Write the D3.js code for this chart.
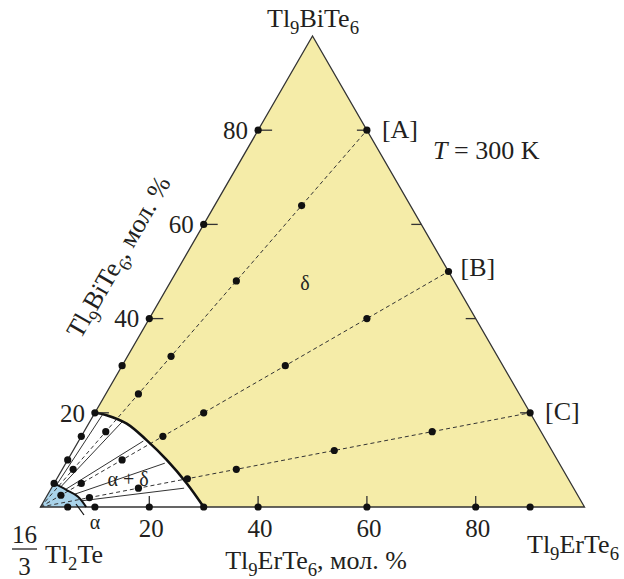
<!DOCTYPE html>
<html>
<head>
<meta charset="utf-8">
<script src="https://cdn.jsdelivr.net/npm/d3@7"></script>
<style>
body { margin: 0; background: #fff; }
svg { display: block; }
text { font-family: "Liberation Serif", "Times New Roman", serif; fill: #231f20; }
</style>
</head>
<body>
<div id="chart"></div>
<script>
// axis ticks, mol. %
var ticks = [20, 40, 60, 80];

// samples on the binary edges, mol. %
var edgeBi = [5, 10, 15, 20, 30, 40, 60, 80];   // Tl2Te - Tl9BiTe6
var edgeEr = [5, 10, 20, 30, 40, 60, 80, 90];   // Tl2Te - Tl9ErTe6

// sections Tl2Te - [A], [B], [C]
var sectionNames = ["[A]", "[B]", "[C]"];
var sectionEr = [20, 50, 80];
var sectionBi = [80, 50, 20];
// share of the end alloy along each section, %
var sectionA = [10, 20, 30, 40, 60, 80, 100];
var sectionB = [5, 10, 20, 30, 40, 60, 80, 100];
var sectionC = [10, 20, 30, 40, 60, 80, 100];

// phase boundaries, [Er %, Bi %]
var deltaBoundary = [[0, 20], [2.4, 19.5], [7, 17.7], [12.4, 14.2], [18.2, 10], [24.4, 5], [30, 0]];
var alphaBoundary = [[0, 5], [3, 3.6], [5.8, 2.2], [8.4, 0]];

// tie lines alpha -> delta
var tieFrom = [[0.6, 4.7], [1.6, 4.3], [2.8, 3.8], [4.9, 2.7], [6.8, 1.3]];
var tieTo   = [[1.6, 19.7], [6, 18.2], [11.9, 14], [18.2, 9.3], [24.4, 4]];

var width = 624, height = 579;

var svg = d3.select("#chart").append("svg")
	.attr("width", width)
	.attr("height", height);

// ternary: x from Er + Bi/2, y from Bi
var sx = d3.scaleLinear().domain([0, 100]).range([40.5, 584.5]);
var sy = d3.scaleLinear().domain([0, 100]).range([507, 36]);

function P(er, bi) { return [sx(er + bi / 2), sy(bi)]; }
function Pc(c) { return P(c[0], c[1]); }

var curve = d3.line().curve(d3.curveCatmullRom.alpha(0.5));

// delta field (yellow)
var dRev = deltaBoundary.slice().reverse().map(Pc);
svg.append("path")
	.attr("d", curve(dRev) + "L" + P(0, 100) + "L" + P(100, 0) + "Z")
	.attr("fill", "#f5eca8");

// alpha field (blue)
svg.append("path")
	.attr("d", curve(alphaBoundary.map(Pc)) + "L" + P(0, 0) + "Z")
	.attr("fill", "#a9d3ea");

// tie lines
for (var i = 0; i < tieFrom.length; i++) {
	var a = Pc(tieFrom[i]), b = Pc(tieTo[i]);
	svg.append("line")
		.attr("x1", a[0]).attr("y1", a[1])
		.attr("x2", b[0]).attr("y2", b[1])
		.attr("stroke", "#333").attr("stroke-width", 1);
}

// dashed sections
var sectionPts = [sectionA, sectionB, sectionC];
for (var s = 0; s < 3; s++) {
	var e = P(sectionEr[s], sectionBi[s]);
	svg.append("line")
		.attr("x1", sx(0)).attr("y1", sy(0))
		.attr("x2", e[0]).attr("y2", e[1])
		.attr("stroke", "#333").attr("stroke-width", 1)
		.attr("stroke-dasharray", "4,3");
}

// triangle
svg.append("path")
	.attr("d", "M" + P(0, 0) + "L" + P(0, 100) + "L" + P(100, 0) + "Z")
	.attr("fill", "none").attr("stroke", "#333").attr("stroke-width", 1.3);

// boundaries
svg.append("path")
	.attr("d", curve(deltaBoundary.map(Pc)))
	.attr("fill", "none").attr("stroke", "#111").attr("stroke-width", 2.6);
svg.append("path")
	.attr("d", curve(alphaBoundary.map(Pc)))
	.attr("fill", "none").attr("stroke", "#111").attr("stroke-width", 2);

// ticks
ticks.forEach(function (t) {
	var l = P(0, t), r = P(100 - t, t), b = P(t, 0);
	svg.append("line").attr("x1", l[0]).attr("y1", l[1]).attr("x2", l[0] + 14).attr("y2", l[1])
		.attr("stroke", "#333").attr("stroke-width", 1.3);
	svg.append("line").attr("x1", r[0]).attr("y1", r[1]).attr("x2", r[0] - 10).attr("y2", r[1])
		.attr("stroke", "#333").attr("stroke-width", 1.3);
	svg.append("line").attr("x1", b[0]).attr("y1", b[1]).attr("x2", b[0]).attr("y2", b[1] - 11)
		.attr("stroke", "#333").attr("stroke-width", 1.3);
	svg.append("text").attr("x", l[0] - 10).attr("y", l[1]).attr("dy", "0.35em")
		.attr("text-anchor", "end").attr("font-size", 25).text(t);
	svg.append("text").attr("x", b[0] + 2).attr("y", 537)
		.attr("text-anchor", "middle").attr("font-size", 25).text(t);
});

// points
var dots = [];
edgeBi.forEach(function (v) { dots.push(P(0, v)); });
edgeEr.forEach(function (v) { dots.push(P(v, 0)); });
for (var s = 0; s < 3; s++) {
	sectionPts[s].forEach(function (t) {
		dots.push(P(sectionEr[s] * t / 100, sectionBi[s] * t / 100));
	});
}
svg.selectAll("circle.pt").data(dots).enter().append("circle")
	.attr("class", "pt")
	.attr("cx", function (d) { return d[0]; })
	.attr("cy", function (d) { return d[1]; })
	.attr("r", 3.6)
	.attr("fill", "#111");

// formula text with subscripts: "Tl_9BiTe_6"
function formula(sel, str, size) {
	var parts = str.split(/_(\d)/);
	var shift = size * 0.28;
	for (var k = 0; k < parts.length; k++) {
		if (parts[k] === "") continue;
		if (k % 2 === 1) {
			sel.append("tspan").attr("font-size", size * 0.72).attr("dy", shift).text(parts[k]);
		} else {
			var ts = sel.append("tspan").text(parts[k]);
			if (k > 0) ts.attr("dy", -shift);
		}
	}
	return sel;
}

// vertex labels
formula(svg.append("text").attr("x", 313).attr("y", 27).attr("text-anchor", "middle").attr("font-size", 26), "Tl_9BiTe_6", 26);
formula(svg.append("text").attr("x", 527).attr("y", 553).attr("font-size", 26), "Tl_9ErTe_6", 26);
formula(svg.append("text").attr("x", 45).attr("y", 563).attr("font-size", 26), "Tl_2Te", 26);
svg.append("text").attr("x", 24.5).attr("y", 543).attr("text-anchor", "middle").attr("font-size", 25).text("16");
svg.append("text").attr("x", 24.5).attr("y", 575).attr("text-anchor", "middle").attr("font-size", 25).text("3");
svg.append("line").attr("x1", 12).attr("x2", 37).attr("y1", 549).attr("y2", 549)
	.attr("stroke", "#231f20").attr("stroke-width", 1.3);

// axis titles
formula(svg.append("text").attr("x", 316).attr("y", 569).attr("text-anchor", "middle").attr("font-size", 26), "Tl_9ErTe_6, мол. %", 26);
var lc = P(0, 47);
var ang = -60, off = 58;
var cx = lc[0] - off * Math.cos(Math.PI / 6), cy = lc[1] - off * Math.sin(Math.PI / 6);
formula(svg.append("text")
	.attr("transform", "translate(" + cx + "," + cy + ") rotate(" + ang + ")")
	.attr("text-anchor", "middle").attr("dy", "0.35em").attr("font-size", 26), "Tl_9BiTe_6, мол. %", 26);

// section labels
var labOff = [[15, 8], [12, 4], [15, 7]];
for (var s = 0; s < 3; s++) {
	var e = P(sectionEr[s], sectionBi[s]);
	svg.append("text").attr("x", e[0] + labOff[s][0]).attr("y", e[1] + labOff[s][1])
		.attr("font-size", 26).text(sectionNames[s]);
}

// temperature
var tt = svg.append("text").attr("x", 433).attr("y", 159).attr("font-size", 26);
tt.append("tspan").attr("font-style", "italic").text("T");
tt.append("tspan").text(" = 300 K");

// phase labels
svg.append("text").attr("x", 305).attr("y", 283).attr("dy", "0.35em").attr("text-anchor", "middle")
	.attr("font-size", 20).text("δ");
svg.append("text").attr("x", 128).attr("y", 486).attr("text-anchor", "middle")
	.attr("font-size", 20).text("α + δ");
svg.append("line").attr("x1", 76).attr("y1", 504).attr("x2", 84).attr("y2", 515)
	.attr("stroke", "#111").attr("stroke-width", 1.2);
svg.append("text").attr("x", 95).attr("y", 522).attr("dy", "0.35em").attr("text-anchor", "middle")
	.attr("font-size", 20).text("α");
</script>
</body>
</html>
